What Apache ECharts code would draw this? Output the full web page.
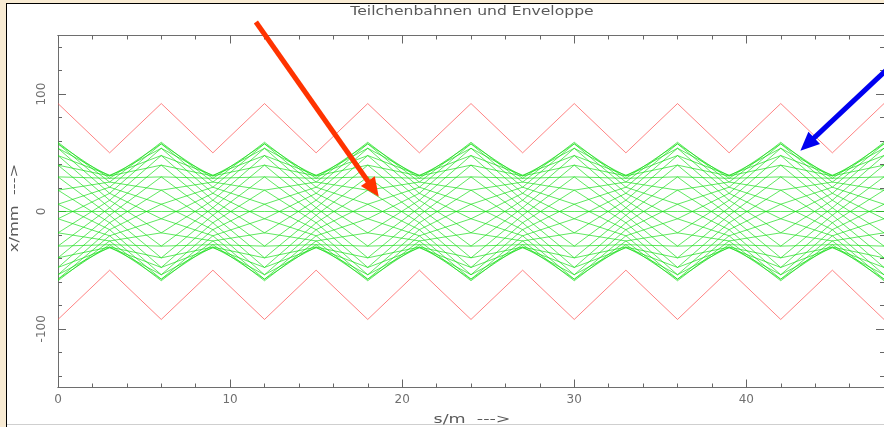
<!DOCTYPE html>
<html>
<head>
<meta charset="utf-8">
<script src="https://cdn.jsdelivr.net/npm/echarts@6/dist/echarts.min.js"></script>
<style>
  html, body { margin: 0; padding: 0; width: 884px; height: 427px; overflow: hidden; background: #f8ebd3; }
  #sheet { position: absolute; left: 6px; top: 3px; width: 878px; height: 424px; background: #fff;
           border-left: 1px solid #000; border-top: 1px solid #000; box-sizing: border-box; }
  #sheetEdge { position: absolute; left: 7px; top: 424px; width: 877px; height: 1px; background: #cfcfcf; }
  #chart { position: absolute; left: 0; top: 0; width: 884px; height: 427px; }
</style>
</head>
<body>
<div id="sheet"></div>
<div id="sheetEdge"></div>
<div id="chart"></div>
<script>
// Lens positions along the beam line (s in m)
const nodeS = [0, 3, 6, 9, 12, 15, 18, 21, 24, 27, 30, 33, 36, 39, 42, 45, 48];

// Envelope (red) at each lens, x in mm
const envelopeTop    = [92, 50, 92, 50, 92, 50, 92, 50, 92, 50, 92, 50, 92, 50, 92, 50, 92];
const envelopeBottom = [-92, -50, -92, -50, -92, -50, -92, -50, -92, -50, -92, -50, -92, -50, -92, -50, -92];

// Particle trajectories (green): position x (mm) at each lens
const orbit00 = [59, 25.1, 18.2, -9.6, -47.7, -31, -47.7, -9.6, 18.2, 25.1, 59, 25.1, 18.2, -9.6, -47.7, -31, -47.7];
const orbit01 = [18.2, -9.6, -47.7, -31, -47.7, -9.6, 18.2, 25.1, 59, 25.1, 18.2, -9.6, -47.7, -31, -47.7, -9.6, 18.2];
const orbit02 = [-47.7, -31, -47.7, -9.6, 18.2, 25.1, 59, 25.1, 18.2, -9.6, -47.7, -31, -47.7, -9.6, 18.2, 25.1, 59];
const orbit03 = [-47.7, -9.6, 18.2, 25.1, 59, 25.1, 18.2, -9.6, -47.7, -31, -47.7, -9.6, 18.2, 25.1, 59, 25.1, 18.2];
const orbit04 = [18.2, 25.1, 59, 25.1, 18.2, -9.6, -47.7, -31, -47.7, -9.6, 18.2, 25.1, 59, 25.1, 18.2, -9.6, -47.7];
const orbit05 = [57.7, 20.7, 6.2, -15.5, -53.9, -30.3, -39.5, -3.2, 29.5, 28.3, 57.7, 20.7, 6.2, -15.5, -53.9, -30.3, -39.5];
const orbit06 = [6.2, -15.5, -53.9, -30.3, -39.5, -3.2, 29.5, 28.3, 57.7, 20.7, 6.2, -15.5, -53.9, -30.3, -39.5, -3.2, 29.5];
const orbit07 = [-53.9, -30.3, -39.5, -3.2, 29.5, 28.3, 57.7, 20.7, 6.2, -15.5, -53.9, -30.3, -39.5, -3.2, 29.5, 28.3, 57.7];
const orbit08 = [-39.5, -3.2, 29.5, 28.3, 57.7, 20.7, 6.2, -15.5, -53.9, -30.3, -39.5, -3.2, 29.5, 28.3, 57.7, 20.7, 6.2];
const orbit09 = [29.5, 28.3, 57.7, 20.7, 6.2, -15.5, -53.9, -30.3, -39.5, -3.2, 29.5, 28.3, 57.7, 20.7, 6.2, -15.5, -53.9];
const orbit10 = [53.9, 15.5, -6.2, -20.7, -57.7, -28.3, -29.5, 3.2, 39.5, 30.3, 53.9, 15.5, -6.2, -20.7, -57.7, -28.3, -29.5];
const orbit11 = [-6.2, -20.7, -57.7, -28.3, -29.5, 3.2, 39.5, 30.3, 53.9, 15.5, -6.2, -20.7, -57.7, -28.3, -29.5, 3.2, 39.5];
const orbit12 = [-57.7, -28.3, -29.5, 3.2, 39.5, 30.3, 53.9, 15.5, -6.2, -20.7, -57.7, -28.3, -29.5, 3.2, 39.5, 30.3, 53.9];
const orbit13 = [-29.5, 3.2, 39.5, 30.3, 53.9, 15.5, -6.2, -20.7, -57.7, -28.3, -29.5, 3.2, 39.5, 30.3, 53.9, 15.5, -6.2];
const orbit14 = [39.5, 30.3, 53.9, 15.5, -6.2, -20.7, -57.7, -28.3, -29.5, 3.2, 39.5, 30.3, 53.9, 15.5, -6.2, -20.7, -57.7];
const orbit15 = [47.7, 9.6, -18.2, -25.1, -59, -25.1, -18.2, 9.6, 47.7, 31, 47.7, 9.6, -18.2, -25.1, -59, -25.1, -18.2];
const orbit16 = [-18.2, -25.1, -59, -25.1, -18.2, 9.6, 47.7, 31, 47.7, 9.6, -18.2, -25.1, -59, -25.1, -18.2, 9.6, 47.7];
const orbit17 = [-59, -25.1, -18.2, 9.6, 47.7, 31, 47.7, 9.6, -18.2, -25.1, -59, -25.1, -18.2, 9.6, 47.7, 31, 47.7];
const orbit18 = [-18.2, 9.6, 47.7, 31, 47.7, 9.6, -18.2, -25.1, -59, -25.1, -18.2, 9.6, 47.7, 31, 47.7, 9.6, -18.2];
const orbit19 = [47.7, 31, 47.7, 9.6, -18.2, -25.1, -59, -25.1, -18.2, 9.6, 47.7, 31, 47.7, 9.6, -18.2, -25.1, -59];
const orbit20 = [39.5, 3.2, -29.5, -28.3, -57.7, -20.7, -6.2, 15.5, 53.9, 30.3, 39.5, 3.2, -29.5, -28.3, -57.7, -20.7, -6.2];
const orbit21 = [-29.5, -28.3, -57.7, -20.7, -6.2, 15.5, 53.9, 30.3, 39.5, 3.2, -29.5, -28.3, -57.7, -20.7, -6.2, 15.5, 53.9];
const orbit22 = [-57.7, -20.7, -6.2, 15.5, 53.9, 30.3, 39.5, 3.2, -29.5, -28.3, -57.7, -20.7, -6.2, 15.5, 53.9, 30.3, 39.5];
const orbit23 = [-6.2, 15.5, 53.9, 30.3, 39.5, 3.2, -29.5, -28.3, -57.7, -20.7, -6.2, 15.5, 53.9, 30.3, 39.5, 3.2, -29.5];
const orbit24 = [53.9, 30.3, 39.5, 3.2, -29.5, -28.3, -57.7, -20.7, -6.2, 15.5, 53.9, 30.3, 39.5, 3.2, -29.5, -28.3, -57.7];
const orbit25 = [29.5, -3.2, -39.5, -30.3, -53.9, -15.5, 6.2, 20.7, 57.7, 28.3, 29.5, -3.2, -39.5, -30.3, -53.9, -15.5, 6.2];
const orbit26 = [-39.5, -30.3, -53.9, -15.5, 6.2, 20.7, 57.7, 28.3, 29.5, -3.2, -39.5, -30.3, -53.9, -15.5, 6.2, 20.7, 57.7];
const orbit27 = [-53.9, -15.5, 6.2, 20.7, 57.7, 28.3, 29.5, -3.2, -39.5, -30.3, -53.9, -15.5, 6.2, 20.7, 57.7, 28.3, 29.5];
const orbit28 = [6.2, 20.7, 57.7, 28.3, 29.5, -3.2, -39.5, -30.3, -53.9, -15.5, 6.2, 20.7, 57.7, 28.3, 29.5, -3.2, -39.5];
const orbit29 = [57.7, 28.3, 29.5, -3.2, -39.5, -30.3, -53.9, -15.5, 6.2, 20.7, 57.7, 28.3, 29.5, -3.2, -39.5, -30.3, -53.9];
const orbitRef = [0, 0, 0, 0, 0, 0, 0, 0, 0, 0, 0, 0, 0, 0, 0, 0, 0];

// Axis ticks and labels
const sLabels = [0, 10, 20, 30, 40];
const sMinorTicks = [2, 4, 6, 8, 12, 14, 16, 18, 22, 24, 26, 28, 32, 34, 36, 38, 42, 44, 46, 48];
const xLabels = [-100, 0, 100];
const xMinorTicks = [-140, -120, -80, -60, -40, -20, 20, 40, 60, 80, 120, 140];

// Pointer arrows, given in (s, x) data coordinates
const redArrow  = { from: [11.5, 161.5], to: [18.64, 12.6], color: '#ff3300' };
const blueArrow = { from: [48.45, 124.9], to: [43.14, 51.7], color: '#0000f0' };

const orbits = [orbit00, orbit01, orbit02, orbit03, orbit04, orbit05, orbit06, orbit07, orbit08, orbit09,
                orbit10, orbit11, orbit12, orbit13, orbit14, orbit15, orbit16, orbit17, orbit18, orbit19,
                orbit20, orbit21, orbit22, orbit23, orbit24, orbit25, orbit26, orbit27, orbit28, orbit29, orbitRef];

const toPairs = vals => nodeS.map((s, i) => [s, vals[i]]);

const axisColor = '#6e6e6e';
const tickColor = '#666666';
const labelStyle = { color: '#707070', fontFamily: 'DejaVu Sans', fontSize: 12 };

function sAxis(position, ticks, len, labels) {
  return {
    type: 'value', position, min: 0, max: 48,
    axisLine: { show: true, onZero: false, lineStyle: { color: axisColor, width: 1 } },
    axisTick: { show: true, inside: true, length: len, customValues: ticks, lineStyle: { color: tickColor } },
    axisLabel: labels ? Object.assign({ show: true, margin: 6, customValues: labels }, labelStyle) : { show: false },
    splitLine: { show: false }
  };
}
function xAxisV(position, ticks, len, labels) {
  return {
    type: 'value', position, min: -150, max: 150,
    axisLine: { show: true, onZero: false, lineStyle: { color: axisColor, width: 1 } },
    axisTick: { show: true, inside: true, length: len, customValues: ticks, lineStyle: { color: tickColor } },
    axisLabel: labels ? Object.assign({ show: true, margin: 10, rotate: 90, customValues: labels }, labelStyle) : { show: false },
    splitLine: { show: false }
  };
}

const series = [];
orbits.forEach(o => series.push({
  type: 'line', data: toPairs(o), symbol: 'none', silent: true,
  lineStyle: { color: 'rgba(10,220,10,0.72)', width: 0.9 }, z: 2
}));
[envelopeTop, envelopeBottom].forEach(e => series.push({
  type: 'line', data: toPairs(e), symbol: 'none', silent: true,
  lineStyle: { color: 'rgba(255,90,90,0.75)', width: 1 }, z: 3
}));

const chart = echarts.init(document.getElementById('chart'), null, { renderer: 'canvas' });
chart.setOption({
  animation: false,
  backgroundColor: 'transparent',
  grid: { left: 58, top: 35.5, right: -3.2, bottom: 39.5, containLabel: false },
  xAxis: [
    sAxis('bottom', sLabels, 8, sLabels),
    sAxis('bottom', sMinorTicks, 4, null),
    sAxis('top', sLabels, 8, null),
    sAxis('top', sMinorTicks, 4, null)
  ],
  yAxis: [
    xAxisV('left', xLabels, 8, xLabels),
    xAxisV('left', xMinorTicks, 4, null),
    xAxisV('right', xLabels, 8, null),
    xAxisV('right', xMinorTicks, 4, null)
  ],
  series
});

// Title, axis names and pointer arrows
function arrowShapes(a) {
  const p0 = chart.convertToPixel({ xAxisIndex: 0, yAxisIndex: 0 }, a.from);
  const p1 = chart.convertToPixel({ xAxisIndex: 0, yAxisIndex: 0 }, a.to);
  const dx = p1[0] - p0[0], dy = p1[1] - p0[1];
  const d = Math.hypot(dx, dy), ux = dx / d, uy = dy / d;
  const headLen = 19, headHalf = 8.5;
  const bx = p1[0] - ux * headLen, by = p1[1] - uy * headLen;
  return [
    { type: 'line', shape: { x1: p0[0], y1: p0[1], x2: bx + ux * 2, y2: by + uy * 2 },
      style: { stroke: a.color, lineWidth: 5 }, z: 10 },
    { type: 'polygon', shape: { points: [[p1[0], p1[1]], [bx - uy * headHalf, by + ux * headHalf], [bx + uy * headHalf, by - ux * headHalf]] },
      style: { fill: a.color }, z: 10 }
  ];
}

const textFill = '#5a5a5a';
chart.setOption({
  graphic: [
    { type: 'text', x: 472, y: 12, scaleX: 1.3, z: 10,
      style: { text: 'Teilchenbahnen und Enveloppe', font: '12px "DejaVu Sans"', fill: textFill, align: 'center', verticalAlign: 'middle' } },
    { type: 'text', x: 472, y: 420, scaleX: 1.35, z: 10,
      style: { text: 's/m  --->', font: '13px "DejaVu Sans"', fill: textFill, align: 'center', verticalAlign: 'middle' } },
    { type: 'text', x: 15, y: 208, rotation: Math.PI / 2, scaleX: 1.25, z: 10,
      style: { text: 'x/mm  --->', font: '13px "DejaVu Sans"', fill: textFill, align: 'center', verticalAlign: 'middle' } }
  ].concat(arrowShapes(redArrow), arrowShapes(blueArrow))
});
</script>
</body>
</html>
